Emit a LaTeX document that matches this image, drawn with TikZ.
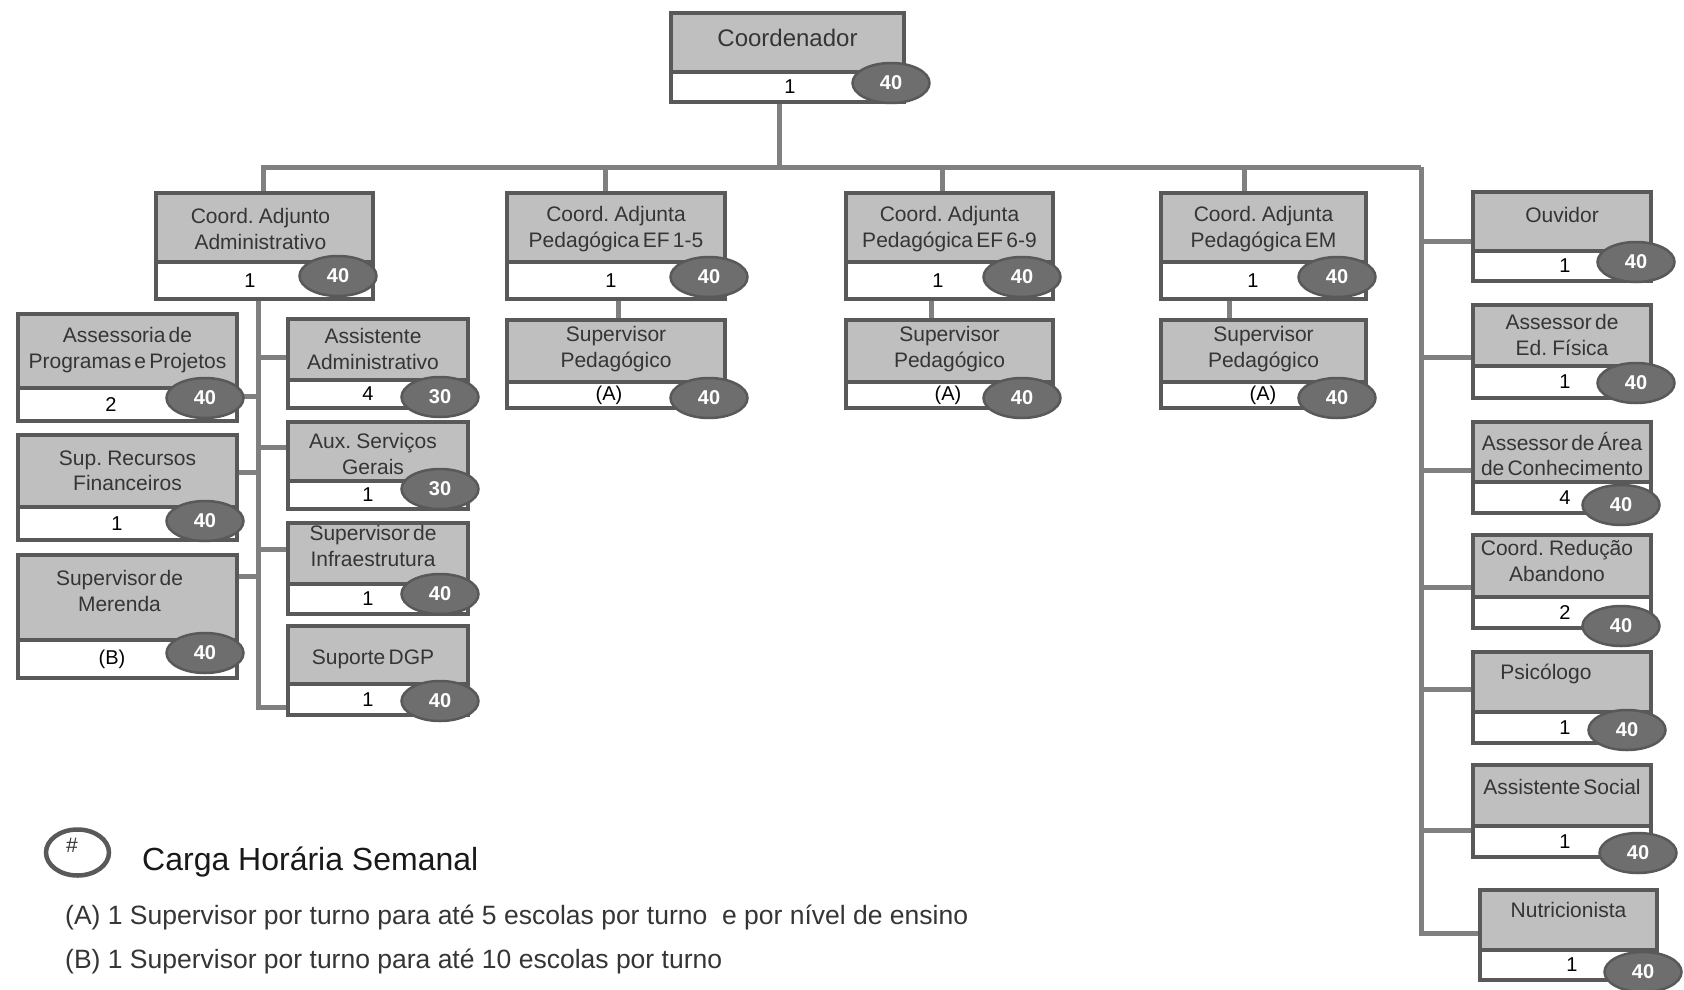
\documentclass[tikz,border=0pt]{standalone}
\usepackage{fontspec}
\setmainfont{Liberation Sans}[WordSpace=0.55]
\newfontfamily\legfont{Liberation Sans}
\usetikzlibrary{shapes.geometric}
\definecolor{boxgray}{HTML}{BFBFBF}
\definecolor{framegray}{HTML}{595959}
\definecolor{ellgray}{HTML}{6E6E6E}
\definecolor{conngray}{HTML}{808080}
\definecolor{labgray}{HTML}{353535}
\pgfdeclarelayer{bg}
\pgfsetlayers{bg,main}
\tikzset{
  boxframe/.style={draw=framegray, line width=4pt, inner sep=0pt, outer sep=0pt},
  boxlabel/.style={text=labgray, align=center, inner sep=0pt},
  numlabel/.style={text=black, font=\fontsize{20}{22}\selectfont, inner sep=0pt},
  hourbadge/.style={ellipse, draw=framegray, line width=2.5pt, fill=ellgray, text=white,
    font=\bfseries\fontsize{20}{20}\selectfont, minimum width=77pt, minimum height=40pt, inner sep=0pt},
  connector/.style={draw=conngray, line width=5pt},
  legtext/.style={text=labgray, anchor=west, inner sep=0pt},
}
\begin{document}
\begin{tikzpicture}[x=1pt,y=-1pt]
\useasboundingbox (0,0) rectangle (1684,990);
\begin{pgfonlayer}{bg}
\fill[white] (0,0) rectangle (1684,990);
\end{pgfonlayer}

\foreach \nm/\xa/\ya/\xb/\yb/\yd/\lx/\ly/\fs/\lab/\num/\nx/\ex/\ey/\hr in {
 coord/671/13/904/102/72/0/38/24/{Coordenador}/1/790/891/83/40,
 adm/156/193/373/299/262/-4/229/21/{Coord. Adjunto\\Administrativo}/1/250/338/276/40,
 ef15/507/193/725/299/262/0/229/21/{Coord. Adjunta\\Pedagógica EF 1-5}/1/611/709/277/40,
 ef69/846/193/1053/299/262/0/229/21/{Coord. Adjunta\\Pedagógica EF 6-9}/1/938/1022/277/40,
 em/1161/193/1366/299/262/0/229/21/{Coord. Adjunta\\Pedagógica EM}/1/1253/1337/277/40,
 supa/507/320/725/408/382/0/349/21/{Supervisor\\Pedagógico}/{(A)}/609/709/398/40,
 supb/846/320/1053/408/382/0/349/21/{Supervisor\\Pedagógico}/{(A)}/948/1022/398/40,
 supc/1161/320/1366/408/382/0/349/21/{Supervisor\\Pedagógico}/{(A)}/1263/1337/398/40,
 apr/18/314/237/421/388/0/350/21/{Assessoria de\\Programas e Projetos}/2/111/205/398/40,
 srf/18/435/237/540/507/0/471/21/{Sup. Recursos\\Financeiros}/1/117/205/521/40,
 mer/18/555/237/678/640/-8/591/21/{Supervisor de\\Merenda}/{(B)}/112/205/653/40,
 asa/288/319/468/408/380/-5/349/21/{Assistente\\Administrativo}/4/368/440/397/30,
 asg/288/422/468/509/481/-5/454/21/{Aux. Serviços\\Gerais}/1/368/440/489/30,
 inf/288/523/468/614/584/-5/546/21/{Supervisor de\\Infraestrutura}/1/368/440/594/40,
 dgp/288/626/468/715/684/-5/659/21/{Suporte DGP}/1/368/440/701/40,
 ouv/1473/192/1651/281/251/0/215/21/{Ouvidor}/1/1565/1636/262/40,
 edf/1473/305/1651/398/366/0/335/21/{Assessor de\\Ed. Física}/1/1565/1636/383/40,
 area/1473/422/1651/513/482/0/454/21/{Assessor de Área\\de Conhecimento}/4/1565/1621/505/40,
 red/1473/535/1651/628/597/-5/561/21/{Coord. Redução\\Abandono}/2/1565/1621/626/40,
 psi/1473/652/1651/743/712/-16/674/21/{Psicólogo}/1/1565/1627/730/40,
 ass/1473/765/1651/857/826/0/787/21/{Assistente Social}/1/1565/1638/853/40,
 nut/1480/890/1657/980/950/0/910/21/{Nutricionista}/1/1572/1643/972/40
}{
  \fill[boxgray] (\xa,\ya) rectangle (\xb,\yd);
  \fill[white] (\xa,\yd) rectangle (\xb,\yb);
  \draw[framegray, line width=4pt] (\xa,\yd) -- (\xb,\yd);
  \node[boxframe, minimum width={(\xb-\xa)*1pt}, minimum height={(\yb-\ya)*1pt}]
    (\nm) at ({(\xa+\xb)/2},{(\ya+\yb)/2}) {};
  \node[boxlabel, font=\fontsize{\fs}{25.5}\selectfont] at ({(\xa+\xb)/2+\lx},\ly) {\lab};
  \node[numlabel] at (\nx,{(\yd+\yb)/2}) {\num};
  \node[hourbadge] at (\ex,\ey) {\hr};
}

% connectors
\coordinate (rv) at (1421,167);
\coordinate (av) at (258,299);
\begin{pgfonlayer}{bg}
\draw[connector] ([xshift=-8pt]coord.south) -- ([xshift=-8pt]coord.south |- rv);
\draw[connector] ([xshift=-1.5pt]adm.north) |- (rv);
\draw[connector] (rv) |- ([yshift=2pt]nut.west);
\draw[connector] ([xshift=-11pt]ef15.north) -- ([xshift=-11pt]ef15.north |- rv);
\draw[connector] ([xshift=-7.5pt]ef69.north) -- ([xshift=-7.5pt]ef69.north |- rv);
\draw[connector] ([xshift=-19.5pt]em.north) -- ([xshift=-19.5pt]em.north |- rv);
\draw[connector] ([xshift=2pt]ef15.south) -- ([xshift=2pt]supa.north);
\draw[connector] ([xshift=-18pt]ef69.south) -- ([xshift=-18pt]supb.north);
\draw[connector] ([xshift=-34.5pt]em.south) -- ([xshift=-34.5pt]supc.north);
% right column
\draw[connector] ([yshift=-4.5pt]ouv.west) -- ([yshift=-4.5pt]ouv.west -| rv);
\draw[connector] ([yshift=-5.5pt]edf.west) -- ([yshift=-5.5pt]edf.west -| rv);
\draw[connector] ([yshift=-2.5pt]area.west) -- ([yshift=-2.5pt]area.west -| rv);
\draw[connector] ([yshift=-5.5pt]red.west) -- ([yshift=-5.5pt]red.west -| rv);
\draw[connector] ([yshift=8.5pt]psi.west) -- ([yshift=8.5pt]psi.west -| rv);
\draw[connector] ([yshift=-19pt]ass.west) -- ([yshift=-19pt]ass.west -| rv);
% admin column
\draw[connector] ([xshift=-6.5pt]adm.south) |- ([yshift=-36.5pt]dgp.west);
\draw[connector] ([yshift=6.5pt]asa.west) -- ([yshift=6.5pt]asa.west -| av);
\draw[connector] ([yshift=18.5pt]asg.west) -- ([yshift=18.5pt]asg.west -| av);
\draw[connector] ([yshift=19.5pt]inf.west) -- ([yshift=19.5pt]inf.west -| av);
\draw[connector] ([yshift=-28.5pt]apr.east) -- ([yshift=-28.5pt]apr.east -| av);
\draw[connector] ([yshift=15.5pt]srf.east) -- ([yshift=15.5pt]srf.east -| av);
\draw[connector] ([yshift=40.5pt]mer.east) -- ([yshift=40.5pt]mer.east -| av);
\end{pgfonlayer}

% legend
\node[ellipse, draw=framegray, line width=4.5pt, fill=white, minimum width=63pt, minimum height=46pt, inner sep=0pt] (legell) at (77.5,852.5) {};
\node[text=black!80, font=\legfont\fontsize{21}{21}\selectfont, inner sep=0pt] (hash) at (72,845) {\#};
\node[legtext, text=black!90, font=\legfont\fontsize{32}{34}\selectfont] (legtitle) at (142,862) {Carga Horária Semanal};
\node[legtext, font=\legfont\fontsize{26.5}{28}\selectfont] (legA) at (65,917) {(A) 1 Supervisor por turno para até 5 escolas por turno\ \ e por nível de ensino};
\node[legtext, font=\legfont\fontsize{26.5}{28}\selectfont] (legB) at (65,961) {(B) 1 Supervisor por turno para até 10 escolas por turno};
\end{tikzpicture}
\end{document}
